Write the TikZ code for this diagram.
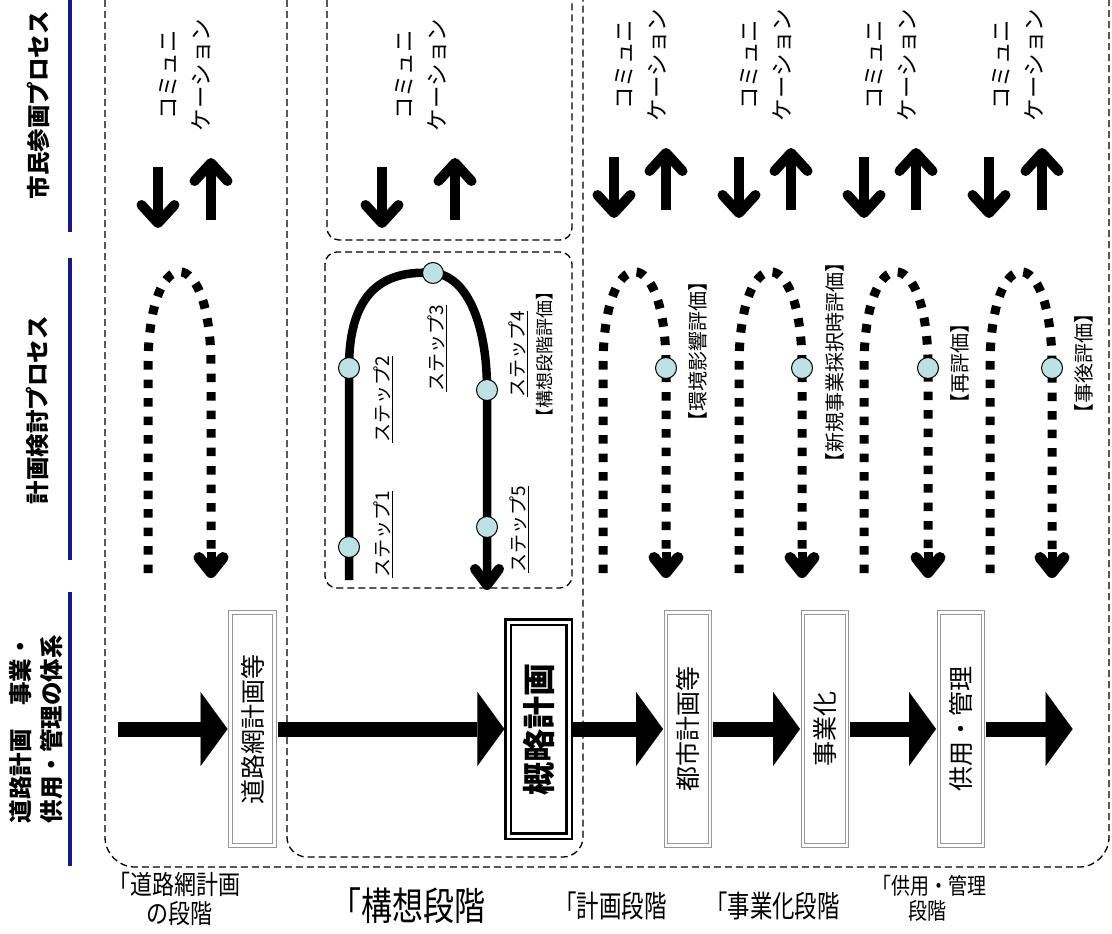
\documentclass[tikz,border=0pt]{standalone}
\usepackage{fontspec}
\setmainfont{Noto Sans CJK JP}
\usepackage{graphicx}
\usetikzlibrary{arrows.meta}

\definecolor{barblue}{RGB}{24,24,140}
\definecolor{dotblue}{RGB}{190,225,228}
\definecolor{framegray}{RGB}{150,150,150}

\newcommand{\vtxt}[1]{\rotatebox{90}{#1}}
% font size, baseline skip, vertical stretch, lines
\newcommand{\phasetext}[4]{\scalebox{1}[#3]{\fontsize{#1}{#2}\selectfont\begin{tabular}{@{}l@{}}#4\end{tabular}}}

\begin{document}
\begin{tikzpicture}[x=1pt, y=-1pt,
  zone/.style={line width=1.3pt, dash pattern=on 7pt off 4pt},
  bar/.style={draw=barblue, line width=4pt},
  head/.style={rotate=90, align=center, inner sep=0pt, font=\bfseries\fontsize{23.5}{31}\selectfont},
  stagebox/.style={draw=framegray, double=white, double distance=2.4pt, line width=1.2pt, fill=white,
    minimum width=44pt, minimum height=233pt, inner sep=0pt, font=\fontsize{25}{25}\selectfont},
  keybox/.style={draw=black, double=white, double distance=3pt, line width=2.5pt, fill=white,
    minimum width=61pt, minimum height=214pt, inner sep=0pt, font=\bfseries\fontsize{33}{33}\selectfont},
  flow/.style={line width=15pt, shorten <=2.4pt, shorten >=2.4pt,
    -{Triangle[length=27pt, width=74pt, line width=0.1pt]}},
  talk/.style={line width=10pt, -{Straight Barb[length=18pt, width=33pt, round]}},
  loopy/.style={line width=9pt, dash pattern=on 8.5pt off 10pt},
  loophead/.style={line width=9pt, -{Straight Barb[length=15pt, width=24pt, round, line width=11pt]}},
  stepline/.style={line width=8.5pt, -{Straight Barb[length=16pt, width=24pt, round, line width=10pt]}},
  stepdot/.style={circle, draw, line width=1pt, fill=dotblue, minimum size=21pt, inner sep=0pt},
  talktext/.style={rotate=90, align=center, inner sep=0pt, font=\fontsize{22.5}{33}\selectfont},
  steptext/.style={rotate=90, align=center, inner sep=0pt, font=\fontsize{19}{27}\selectfont},
  evaltext/.style={rotate=90, inner sep=0pt, font=\fontsize{20}{20}\selectfont},
  phase/.style={anchor=north west, inner sep=0pt},
]
\useasboundingbox (0,0) rectangle (1112,934);

% headers
\node[head] (hcit) at (38,105) {市民参画プロセス};
\node[head] (hplan) at (38,410) {計画検討プロセス};
\node[head] (hsys) at (36.5,729) {道路計画　事業・\\供用・管理の体系};
\draw[bar] (70,0) -- (70,232);
\draw[bar] (70,258) -- (70,560);
\draw[bar] (70,592) -- (70,866);

% dashed frames
\draw[zone, rounded corners=30pt] (105,0) -- (105,867) -- (1109,867) -- (1109,0);
\draw[zone, rounded corners=20pt] (287,0) -- (287,857) -- (583,857) -- (583,0);
\draw[zone, rounded corners=12pt] (327,0) -- (327,240) -- (572,240) -- (572,0);
\draw[zone, rounded corners=12pt] (325,252) rectangle (572,588);

% citizen part
\foreach \x/\y [count=\i] in {185/75, 421/75, 641.5/65, 766.5/65, 891.5/65, 1018.5/65}
  \node[talktext] (com\i) at (\x,\y) {コミュニ\\ケーション};
\foreach \xd/\xu/\yt in {158/211/167, 382/455/167, 614/666/157, 739/791/157, 864/916/157, 989/1042/157} {
  \draw[talk] (\xd,\yt) -- (\xd,\yt+61);
  \draw[talk] (\xu,\yt+53) -- (\xu,\yt-9);
}

% planning loops
\foreach \xl/\xr in {148/211, 603/666, 739/802, 864/928, 990/1052} {
  \draw[loopy] (\xl,573) -- (\xl,367) .. controls (\xl,240) and (\xr,240) .. (\xr,367) -- (\xr,556);
  \draw[loophead] (\xr,552) -- (\xr,578);
}
\foreach \x/\lx/\ly/\txt [count=\i] in {666/698/351/【環境影響評価】, 802/835/362/【新規事業採択時評価】,
    928/960/363/【再評価】, 1052/1084/363/【事後評価】} {
  \node[stepdot] (ev\i) at (\x,368) {};
  \node[evaltext] (evl\i) at (\lx,\ly) {\txt};
}

% steps
\coordinate (s0) at (349,580);
\coordinate (p1) at (349,547);
\coordinate (p2) at (349,368);
\coordinate (p3) at (433,273);
\coordinate (p4) at (487,390);
\coordinate (p5) at (487,527);
\coordinate (s6) at (487,590);
\draw[stepline] (s0) -- (p1) -- (p2) .. controls (349,290) and (385,270) .. (p3)
  .. controls (465,275) and (487,320) .. (p4) -- (p5) -- (s6);
\foreach \p in {1,...,5}
  \node[stepdot] (st\p) at (p\p) {};
\node[steptext, anchor=west] (lab1) at (383,578) {\underline{ステップ1}};
\node[steptext, anchor=west] (lab2) at (383,443) {\underline{ステップ2}};
\node[steptext, anchor=west] (lab3) at (437,392) {\underline{ステップ3}};
\node[steptext] (lab4) at (531,354) {\underline{ステップ4}\\{\fontsize{18}{27}\selectfont 【構想段階評価】}};
\node[steptext, anchor=west] (lab5) at (519,573) {\underline{ステップ5}};

% system flow
\coordinate (go) at (116,729);
\node[stagebox] (net) at (252.5,729) {\vtxt{道路網計画等}};
\node[keybox] (plan) at (538.5,729) {\vtxt{概略計画}};
\node[stagebox] (city) at (688,729) {\vtxt{都市計画等}};
\node[stagebox] (works) at (825,729) {\vtxt{事業化}};
\node[stagebox] (use) at (961,729) {\vtxt{供用・管理}};
\coordinate (out) at (1075,729);
\draw[flow] (go) -- (net);
\draw[flow] (net) -- (plan);
\draw[flow] (plan) -- (city);
\draw[flow] (city) -- (works);
\draw[flow] (works) -- (use);
\draw[flow] (use) -- (out);

% phase names
\node[phase] (ph1) at (108,872) {\phasetext{22}{18}{1.2}{「道路網計画\\[0pt]\hspace*{38pt}の段階}};
\node[phase] (ph2) at (330,888) {\phasetext{31}{24}{1.25}{「構想段階}};
\node[phase] (ph3) at (554,892) {\phasetext{22.5}{18}{1.35}{「計画段階}};
\node[phase] (ph4) at (705,892) {\phasetext{22.4}{18}{1.35}{「事業化段階}};
\node[phase] (ph5) at (872,875) {\phasetext{19}{15}{1.2}{「供用・管理\\[0pt]\hspace*{36pt}段階}};
\end{tikzpicture}
\end{document}
